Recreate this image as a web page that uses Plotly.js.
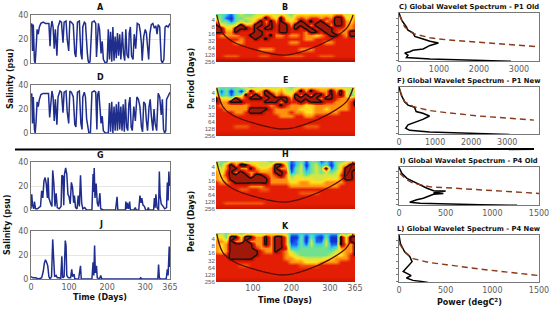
<!DOCTYPE html>
<html><head><meta charset="utf-8">
<script src="https://cdn.plot.ly/plotly-3.0.1.min.js"></script>
<style>html,body{margin:0;padding:0;background:#fff}#c{width:550px;height:310px}</style>
</head><body><div id="c"></div>
<script>
const A_days=[0,2,4,6,9,11,13,16,19,22,26,32,38,47,50,52,55,58,61,64,68,71,76,80,84,87,92,95,99,102,106,111,115,118,122,127,131,134,136,140,143,146,148,150,152,155,160,166,170,172,175,177,180,184,187,190,195,200,203,206,209,212,215,218,221,224,227,230,233,236,240,243,246,249,252,256,258,261,264,268,271,275,279,284,287,290,292,296,300,303,306,309,312,316,320,324,328,331,334,338,342,345,349,352,356,360,365];
const A_sal=[30,33,10,32,2,0,10,28,24,30,33,34,33,33,14,28,35,30,12,28,6,30,35,34,17,34,35,20,10,35,34,32,8,5,34,35,8,3,30,34,33,12,8,2,0,1,34,35,33,5,30,33,28,8,18,3,0,1,28,3,26,1,30,2,22,4,25,6,24,3,26,8,2,28,7,4,25,30,6,3,24,12,33,32,26,16,2,22,28,25,14,3,24,32,33,29,31,24,32,30,2,0,3,30,31,30,33];
const D_days=[0,2,4,6,9,11,13,16,19,22,26,32,38,46,49,52,55,58,61,64,68,71,76,80,84,87,92,95,99,102,106,111,115,118,122,127,131,134,136,140,143,146,150,152,156,160,166,170,173,175,178,181,184,187,190,195,203,206,209,212,215,218,221,224,227,230,233,236,239,242,245,248,251,254,257,260,263,266,270,274,278,282,286,290,293,296,300,303,306,310,313,316,320,323,326,330,334,338,342,345,348,351,354,356,359,362,365];
const D_sal=[30,33,8,30,3,0,8,26,22,28,32,33,33,33,13,26,35,30,10,28,7,30,35,34,17,34,35,18,8,35,34,30,7,5,34,35,8,3,30,34,30,12,3,0,0,34,35,34,3,32,35,20,8,14,2,0,0,25,1,26,0,22,2,24,2,26,3,22,2,24,1,28,5,2,24,30,5,2,22,10,30,28,22,5,1,26,24,10,2,22,28,14,2,20,8,2,33,30,15,28,3,0,2,28,30,31,34];
const G_days=[0,2,4,7,9,12,17,21,25,28,31,34,37,40,43,45,47,52,55,57,60,63,66,69,74,79,81,84,86,88,91,94,97,100,103,106,109,112,114,117,121,124,127,130,133,136,141,146,160,163,164,166,168,171,174,177,181,183,190,222,226,228,248,249,251,253,256,259,261,270,274,276,283,286,289,291,294,298,301,306,308,310,322,324,326,328,331,335,337,339,342,347,351,356,358,360,362,364,365];
const G_sal=[1,13,4,1,7,1,1,2,3,16,10,24,27,22,10,27,10,5,3,33,22,3,14,2,1,3,29,28,4,30,35,30,13,11,5,23,19,6,12,2,1,12,3,29,6,1,2,0,0,30,15,35,10,22,6,3,14,1,0,0,11,0,0,7,1,6,1,7,0,0,2,0,0,12,6,10,4,3,0,0,2,0,0,10,2,13,2,0,32,12,5,3,1,2,23,8,32,20,22];
const J_days=[0,5,12,20,28,32,35,38,41,44,47,50,54,57,59,62,66,69,76,78,81,83,87,90,92,94,98,104,107,109,113,115,125,130,132,160,163,165,167,169,172,174,180,183,186,220,285,288,292,333,335,337,340,355,358,360,363,365];
const J_sal=[2,1,1,0,1,6,13,16,14,11,2,0,2,33,20,2,3,1,1,0,19,1,2,32,28,3,1,1,8,2,4,0,0,11,0,0,14,3,28,5,11,1,0,3,0,0,0,1,0,0,12,1,0,0,8,3,27,10];

const waveDays=[3,16,29,42,55,68,81,94,107,120,133,146,159,172,185,198,211,224,237,250,263,276,289,302,315,328,341,354,367];
const periodExp=[1.2,1.7,2.2,2.7,3.2,3.7,4.2,4.7,5.2,5.7,6.2,6.7,7.2,7.7,8.2];
const B_power=[
[3,3,2,1,3,4,3,3,4,4,5,5,4,5,4,3,5,5,5,5,5,5,5,5,6,6,4,5,5],
[4,3,1,0,3,3,4,4,5,6,9,6,5,9,5,4,6,7,6,7,7,6,7,6,9,9,5,5,6],
[6,3,3,1,3,4,3,4,6,9,6,9,6,9,6,5,6,9,7,9,7,9,6,7,9,9,6,5,7],
[9,5,4,4,5,9,6,6,9,9,7,9,7,9,9,6,9,9,9,6,9,9,9,6,9,9,6,6,7],
[9,9,5,5,9,9,9,7,9,7,9,9,7,9,9,7,9,7,9,9,7,9,9,9,7,7,6,6,7],
[9,9,6,6,9,7,7,7,9,9,7,7,7,9,9,7,7,7,6,9,9,7,9,9,7,6,6,9,9],
[7,6,6,6,6,7,7,9,9,9,7,9,6,6,7,6,6,7,6,6,5,6,7,9,9,7,6,9,9],
[7,7,7,7,7,6,7,7,9,7,9,7,7,7,7,7,7,7,6,6,7,7,7,7,7,7,7,7,7],
[7,7,7,7,6,6,7,7,7,7,7,7,7,7,7,6,6,7,7,7,7,7,6,6,7,7,7,7,7],
[7,7,7,7,7,7,7,7,7,7,7,7,7,7,7,7,7,7,7,7,7,7,7,7,7,7,7,7,7],
[7,7,7,7,7,7,7,7,7,6,6,6,7,7,7,7,7,6,6,6,7,7,7,7,7,7,7,7,7],
[7,7,7,7,7,7,7,7,7,7,7,7,7,7,7,7,7,7,7,7,7,7,7,7,7,7,7,7,7],
[7,7,6.5,6.5,6.5,7,7,7,7,6.5,6.5,7,7,7,6.5,6.5,6.5,6.5,7,7,7,6.5,6.5,6.5,7,7,7,7,7],
[8,8,8,8,8,8,8,8,8,8,8,8,8,8,8,8,8,8,8,8,8,8,8,8,8,8,8,8,8],
[8,8,8,8,8,8,8,8,8,8,8,8,8,8,8,8,8,8,8,8,8,8,8,8,8,8,8,8,8]];
const E_power=[
[4,3,3,3,3,4,4,3,4,4,4,4,4,5,4,3,4,5,5,5,5,5,5,5,5,4,4,4,5],
[4,1,3,0,3,0,4,9,5,6,9,6,5,6,4,4,6,9,6,9,7,6,6,9,6,9,5,3,5],
[5,2,3,1,3,4,9,6,9,6,9,9,6,7,6,5,9,6,9,6,9,9,6,9,7,9,5,2,6],
[9,5,5,4,9,6,7,9,9,9,7,9,9,9,9,6,9,9,9,9,9,6,9,9,7,6,6,6,7],
[9,6,6,9,9,9,7,7,7,7,9,9,9,6,9,7,7,9,7,9,9,9,7,7,6,6,6,7,9],
[7,6,6,6,6,6,6,7,7,7,7,6,7,9,7,6,6,6,5,5,6,6,6,6,6,6,6,7,9],
[7,7,6,6,6,6,6,9,9,9,9,7,6,6,6,6,6,5,5,5,6,6,5,6,6,6,6,7,7],
[7,7,7,7,6,6,7,9,9,9,7,7,6,6,6,7,6,6,5,5,6,6,6,6,6,7,7,7,7],
[7,7,7,7,7,7,7,7,7,7,7,7,7,6,6,6,7,7,6,6,7,7,7,7,7,7,7,7,7],
[7,7,7,7,7,7,7,7,7,7,7,7,7,7,7,7,7,7,7,7,7,7,7,7,7,7,7,7,7],
[7,7,7,7,7,7,7,7,7,7,7,7,7,7,7,7,7,7,7,7,7,7,7,7,7,7,7,7,7],
[7,7,7,7,6.5,6.5,6.5,7,7,7,7,7,7,7,7,7,7,7,6.5,6.5,6.5,7,7,7,7,7,7,7,7],
[7,7,7,7,7,7,7,7,7,7,7,7,7,7,7,7,7,7,7,7,7,7,7,7,7,7,7,7,7],
[7.5,7.5,7.5,7.5,7.5,7.5,7.5,7.5,7.5,7.5,7.5,7.5,7.5,7.5,7.5,7.5,7.5,7.5,7.5,7.5,7.5,7.5,7.5,7.5,7.5,7.5,7.5,7.5,7.5],
[7.5,7.5,7.5,7.5,7.5,7.5,7.5,7.5,7.5,7.5,7.5,7.5,7.5,7.5,7.5,7.5,7.5,7.5,7.5,7.5,7.5,7.5,7.5,7.5,7.5,7.5,7.5,7.5,7.5]];
const H_power=[
[4,3,3,5,5,5,3,4,5,4,4,3,4,4,4,1,2,3,1,3,3,1,2,1,3,3,4,5,6],
[4,3,6,9,6,9,9,6,5,4,4,5,9,9,5,0,2,4,0,3,4,2,3,0,3,5,6,9,9],
[5,4,6,9,9,6,6,9,6,5,5,6,9,6,6,0,3,4,1,3,4,3,8.9,1,3,5,9,9,9],
[6,4,7,9,6,9,7,6,7,6,6,6,9,9,7,1,3,4,2,3,4,3,4,3,4,6,9,9,7],
[6,5,7,9,9,9,9,6,9,9,7,6,7,9,6,3,4,4,3,4,4,4,4,4,4,7,9,9,7],
[6,5,6,9,9,9,9,9,9,9,9,6,6,6,6,4,5,5,5,5,4,4,5,5,5,6,9,9,7],
[7,6,6,7,9,9,9,9,9,9,9,6,6,6,6,5,5,6,6,5,5,5,6,6,6,6,7,7,7],
[7,7,7,7,7,7,7,6,6,6,7,7,7,7,7,6,6,6,6,6,6,6,6,6,6,7,7,7,7],
[7,7,7,7,7,6.5,6.5,7,7,6.5,6.5,7,7,7,7,7,7,7,7,7,7,7,7,7,7,7,7,7,7],
[7,7,7,7,7,7,7,7,7,7,7,7,7,7,7,7,7,6.5,6.5,6.5,6.5,7,7,7,7,7,7,7,7],
[7,7,7,7,7,7,7,7,7,7,7,7,7,7,7,7,7,7,7,7,7,7,7,7,7,7,7,7,7],
[7,7,7,7,7,7,7,7,7,7,7,7,7,7,7,7,7,7,7,7,7,7,7,7,7,7,7,7,7],
[7,7,6.5,6.5,6.5,6.5,6.5,6.5,6.5,6.5,7,7,7,7,7,7,7,7,7,7,7,7,7,7,7,7,7,7,7],
[7.5,7.5,7.5,7.5,7.5,7.5,7.5,7.5,7.5,7.5,7.5,7.5,7.5,7.5,7.5,7.5,7.5,7.5,7.5,7.5,7.5,7.5,7.5,7.5,7.5,7.5,7.5,7.5,7.5],
[8,8,8,8,8,8,8,8,8,8,8,8,8,8,8,8,8,8,8,8,8,8,8,8,8,8,8,8,8]];
const K_power=[
[3,4,3,4,4,3,4,4,4,4,4,5,4,4,4,2,2,2,2,2,2,2,2,2,2,3,3,4,5],
[5,5,3,9,9,5,9,9,6,6,9,6,9,9,6,0,0,3,0,3,1,0,3,0,0,9,5,9,9],
[6,6,5,9,6,6,9,6,6,6,9,6,9,9,6,0,1,3,0,4,1,1,4,0,0,9,5,9,9],
[6,5,6,9,9,9,9,9,6,6,9,6,9,9,6,1,1,3,1,4,2,2,4,1,1,9,6,6,9],
[6,5,6,9,9,9,9,9,7,6,6,6,9,9,7,2,2,3,3,3,3,3,3,2,3,6,6,6,9],
[6,5,6,9,9,9,9,9,9,7,6,6,9,7,6,4,3,3,3,3,3,3,3,3,4,5,6,6,9],
[7,7,7,9,9,9,9,9,9,7,7,7,7,7,6,5,4,3,3,3,3,3,3,4,5,5,6,7,9],
[7,7,7,9,9,9,9,9,7,7,7,7,7,7,6,6,5,5,4,4,4,4,5,5,6,6,6,7,7],
[7,7,7,7,7,7,7,7,7,7,7,7,7,7,7,6,6,6,5,5,5,6,6,6,6,7,7,7,7],
[7,7,7,7,7,6.5,6.5,7,7,7,7,7,7,7,7,7,7,6.5,6.5,6.5,6.5,7,7,7,7,7,7,7,7],
[7,7,7,7,7,7,7,7,7,7,7,7,7,7,7,7,7,7,7,7,7,7,7,7,7,7,7,7,7],
[7,7,7,7,7,7,7,7,7,7,7,7,7,7,7,7,7,7,7,7,7,7,7,7,7,7,7,7,7],
[7,7,7,7,7,7,7,7,7,7,7,7,7,7,7,7,7,7,7,7,7,7,7,7,7,7,7,7,7],
[7.5,7.5,7.5,7.5,7.5,7.5,7.5,7.5,7.5,7.5,7.5,7.5,7.5,7.5,7.5,7.5,7.5,7.5,7.5,7.5,7.5,7.5,7.5,7.5,7.5,7.5,7.5,7.5,7.5],
[8,8,8,8,8,8,8,8,8,8,8,8,8,8,8,8,8,8,8,8,8,8,8,8,8,8,8,8,8]];
const coiDays=[6,22,48,109,182,239,299,343,360];
const coiExp=[1.28,3.92,5.12,6.33,7.05,6.33,4.88,3.2,1.28];

const C_pow=[0,30,70,185,225,350,395,560,775,985,775,605,350,270,145,225,185,775,1865,2800];
const C_exp=[1.14,1.7,2.2,3.15,3.6,4.0,4.5,4.8,5.2,5.45,5.8,6.3,6.5,6.7,6.9,7.2,7.55,7.75,7.93,8.07];
const C_sigPow=[15,145,350,775,1190,2035,3430];
const C_sigExp=[1.5,3.15,4.1,4.7,5,5.4,5.97];
const F_pow=[0,65,155,250,430,475,660,845,660,385,250,185,295,845,1760,3060];
const F_exp=[1.14,2.35,3.3,3.8,4.1,4.75,5,5.4,5.9,6.4,6.7,7.2,7.5,7.75,7.9,8.1];
const F_sigPow=[20,155,385,845,1300,2220,3740];
const F_sigExp=[1.6,3.3,4,4.6,4.9,5.4,6.0];
const I_pow=[0,30,85,155,225,300,370,500,370,475,370,260,190,115,225,510,870,1265];
const I_exp=[1.2,2.3,3.2,3.8,4.45,5,5.45,5.5,5.8,5.95,6.1,6.8,7.1,7.55,7.7,7.85,8,8.1];
const I_sigPow=[10,85,155,335,510,870,1500];
const I_sigExp=[2.3,3.5,4.1,4.75,4.9,5.3,5.95];
const L_pow=[0,15,60,115,140,95,45,95,130,80,150,240,310];
const L_exp=[1.14,2.4,3.6,4.3,5.05,5.8,6.5,6.85,7.1,7.45,7.8,7.95,8.1];
const L_sigPow=[5,60,150,330,510,870,1500];
const L_sigExp=[2.4,3.6,4.6,5.2,5.5,6.15,7.1];

const periodTicks=[2,3,4,5,6,7,8];
const periodLabels=['4','8','16','32','64','128','256'];
const timeTicks=[0,100,200,300,365];
const waveTimeTicks=[100,200,300,365];

const W=550,H=310;
const FONT='"DejaVu Sans", sans-serif';
const NARROW='"Liberation Sans Narrow", "Liberation Sans", sans-serif';
const GRAY='#5c5c5c', NAVY='#1f2e8c';
const traces=[];
const layout={width:W,height:H,margin:{l:0,r:0,t:0,b:0},paper_bgcolor:'#fff',plot_bgcolor:'#fff',
  showlegend:false,annotations:[],shapes:[],font:{family:FONT,size:8,color:GRAY}};
let n=0;
function axes(x0,x1,y0,y1,xa,ya){
  n++;const s=n===1?'':n;
  layout['xaxis'+s]=Object.assign({domain:[x0/W,x1/W],anchor:'y'+s,showgrid:false,zeroline:false,showline:true,mirror:true,
     linecolor:'#777',linewidth:1,ticks:'',tickangle:0,tickfont:{size:8,color:GRAY,family:FONT}},xa);
  layout['yaxis'+s]=Object.assign({domain:[1-y1/H,1-y0/H],anchor:'x'+s,showgrid:false,zeroline:false,showline:true,mirror:true,
     linecolor:'#777',linewidth:1,ticks:'',tickangle:0,tickfont:{size:8,color:GRAY,family:FONT}},ya);
  return {x:'x'+s,y:'y'+s};
}
function txt(x,y,t,size,extra){
  layout.annotations.push(Object.assign({xref:'paper',yref:'paper',x:x/W,y:1-y/H,text:t,showarrow:false,
    xanchor:'center',yanchor:'middle',font:{family:FONT,size:size,color:'#111'}},extra||{}));
}
function series(y0,y1,xs,ys,label,showX){
  const a=axes(31,170,y0,y1,
    {range:[0,365],tickvals:timeTicks,showticklabels:showX},
    {range:[0,40],tickvals:[0,20,40],showgrid:true,gridcolor:'#e6e6e6',gridwidth:1});
  traces.push({type:'scatter',mode:'lines',x:xs,y:ys,xaxis:a.x,yaxis:a.y,line:{color:NAVY,width:1.5},hoverinfo:'skip'});
  txt(100.5,y0-7,'<b>'+label+'</b>',8);
}
const waveScale=[[0,'#1030d0'],[0.105,'#2060f0'],[0.21,'#35cfe8'],[0.315,'#70e090'],[0.42,'#cfe845'],[0.525,'#ffe020'],[0.63,'#ff9210'],[0.737,'#e41e04'],[0.79,'#d41800'],[0.842,'#b81200'],[0.947,'#a01808'],[1,'#901808']];
function wave(y0,y1,z,label,showX){
  const a=axes(216,355,y0,y1,
    {range:[4,365],tickvals:waveTimeTicks,showticklabels:showX,showline:false},
    {range:[8.04,1.14],tickvals:periodTicks,ticktext:periodLabels,showline:false,tickfont:{size:6.2,color:GRAY,family:NARROW}});
  traces.push({type:'heatmap',x:waveDays,y:periodExp,z:z,xaxis:a.x,yaxis:a.y,zmin:0,zmax:9.5,zsmooth:'best',colorscale:waveScale,showscale:false,hoverinfo:'skip'});
  traces.push({type:'contour',x:waveDays,y:periodExp,z:z,xaxis:a.x,yaxis:a.y,autocontour:false,
    contours:{start:8.5,end:8.5,size:1,coloring:'none'},line:{color:'#111',width:1.4,smoothing:0.8},showscale:false,hoverinfo:'skip'});
  traces.push({type:'scatter',mode:'lines',x:coiDays,y:coiExp,xaxis:a.x,yaxis:a.y,line:{color:'#5a0c04',width:1.3,shape:'spline'},hoverinfo:'skip'});
  txt(285,y0-7,'<b>'+label+'</b>',8);
}
function spectrum(y0,y1,xs,ys,sx,sy,xmax,ticks,label){
  const a=axes(399,539,y0,y1,
    {range:[0,xmax],tickvals:ticks},
    {range:[8.04,1.14],tickvals:periodTicks,showticklabels:false,ticks:'outside',ticklen:2,tickcolor:'#777'});
  traces.push({type:'scatter',mode:'lines',x:xs,y:ys,xaxis:a.x,yaxis:a.y,line:{color:'#000',width:1.5},hoverinfo:'skip'});
  traces.push({type:'scatter',mode:'lines',x:sx,y:sy,xaxis:a.x,yaxis:a.y,line:{color:'#8a3a1a',width:1.4,dash:'6px,4px'},hoverinfo:'skip'});
  txt(469,y0-6,'<b>'+label+'</b>',6.8);
}
series(15,63,A_days,A_sal,'A',false);
series(85,133,D_days,D_sal,'D',false);
series(162,210,G_days,G_sal,'G',false);
series(231,279,J_days,J_sal,'J',true);
wave(14,62,B_power,'B',false);
wave(87,136,E_power,'E',false);
wave(161,209,H_power,'H',false);
wave(233,282,K_power,'K',true);
spectrum(13,61,C_pow,C_exp,C_sigPow,C_sigExp,3500,[0,1000,2000,3000],'C) Global Wavelet Spectrum - P1 Old');
spectrum(87,134,F_pow,F_exp,F_sigPow,F_sigExp,3880,[0,1000,2000,3000],'F) Global Wavelet Spectrum - P1 New');
spectrum(167,205,I_pow,I_exp,I_sigPow,I_sigExp,1500,[0,500,1000,1500],'I) Global Wavelet Spectrum - P4 Old');
spectrum(235,282,L_pow,L_exp,L_sigPow,L_sigExp,1500,[0,500,1000,1500],'L) Global Wavelet Spectrum - P4 New');

txt(10,79,'<b>Salinity (psu)</b>',8,{textangle:-90});
txt(7,225,'<b>Salinity (psu)</b>',8,{textangle:-90});
txt(191,79,'<b>Period (Days)</b>',8,{textangle:-90});
txt(191,222,'<b>Period (Days)</b>',8,{textangle:-90});
txt(100,297,'<b>Time (Days)</b>',8);
txt(285,300,'<b>Time (Days)</b>',8);
txt(469,302,'<b>Power (degC<sup>2</sup>)</b>',8);
layout.shapes.push({type:'line',xref:'paper',yref:'paper',x0:15/W,x1:534/W,y0:1-149.5/H,y1:1-149/H,line:{color:'#000',width:2.2}});
Plotly.newPlot('c',traces,layout,{displayModeBar:false,staticPlot:true});
</script></body></html>
